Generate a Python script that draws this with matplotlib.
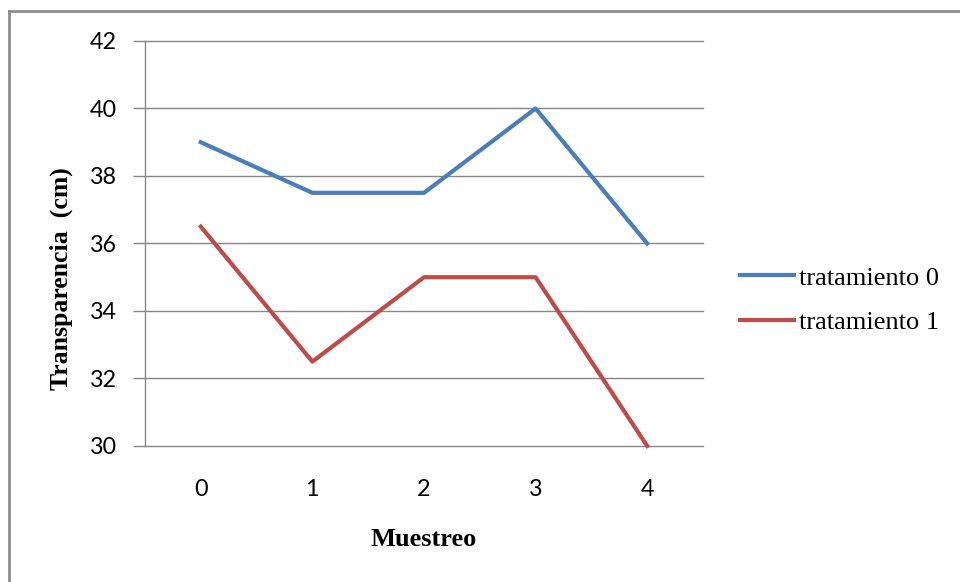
import matplotlib.pyplot as plt
from matplotlib.lines import Line2D

# data
muestreo = [0, 1, 2, 3, 4]
tratamiento_0 = [39, 37.5, 37.5, 40, 36]
tratamiento_1 = [36.5, 32.5, 35, 35, 30]
y_ticks = [30, 32, 34, 36, 38, 40, 42]

blue = "#4A7EBB"
red = "#BE4B48"
grid_gray = "#878787"

fig = plt.figure(figsize=(9.6, 5.82), dpi=100)
ax = fig.add_axes([0.1510, 0.2337, 0.5813, 0.6959])

ax.plot(muestreo, tratamiento_0, color=blue, lw=3, label="tratamiento 0",
        solid_joinstyle="round", clip_on=False, zorder=3)
ax.plot(muestreo, tratamiento_1, color=red, lw=3, label="tratamiento 1",
        solid_joinstyle="round", clip_on=False, zorder=3)

ax.set_xlim(-0.5, 4.5)
ax.set_ylim(30, 42)
ax.set_xticks(muestreo)
ax.set_yticks(y_ticks)

# horizontal gridlines
for y in y_ticks:
    ax.axhline(y, color=grid_gray, lw=1, clip_on=False, zorder=1)

for side in ["top", "right", "bottom"]:
    ax.spines[side].set_visible(False)
ax.spines["left"].set_color(grid_gray)
ax.spines["left"].set_linewidth(1)

ax.tick_params(axis="y", length=9, width=1, color=grid_gray, pad=11,
               labelsize=16.8, labelcolor="black")
ax.tick_params(axis="x", length=0, pad=23.5, labelsize=16.8, labelcolor="black")
for lab in ax.get_xticklabels() + ax.get_yticklabels():
    lab.set_fontfamily("Lato")

fig.text(0.4417, 1 - 539 / 582, "Muestreo", family="Liberation Serif",
         weight="bold", fontsize=19, ha="center", va="center")
fig.text(61 / 960, 1 - 279 / 582, "Transparencia  (cm)", family="Liberation Serif",
         weight="bold", fontsize=18.5, ha="center", va="center", rotation=90)

ax.legend(loc="center left", bbox_to_anchor=(740 / 960, 1 - 300 / 582),
          bbox_transform=fig.transFigure, frameon=False,
          prop={"family": "Liberation Serif", "size": 19},
          handlelength=2.05, handletextpad=0.2, labelspacing=0.78,
          borderpad=0, borderaxespad=0)

# outer chart frame
fig.add_artist(Line2D([8.5 / 960, 1], [1 - 11 / 582, 1 - 11 / 582],
                      color="#8C8C8C", lw=2, transform=fig.transFigure))
fig.add_artist(Line2D([8.5 / 960, 8.5 / 960], [0, 1 - 11 / 582],
                      color="#8C8C8C", lw=2, transform=fig.transFigure))

fig.savefig("out.png", dpi=100, facecolor="white")
